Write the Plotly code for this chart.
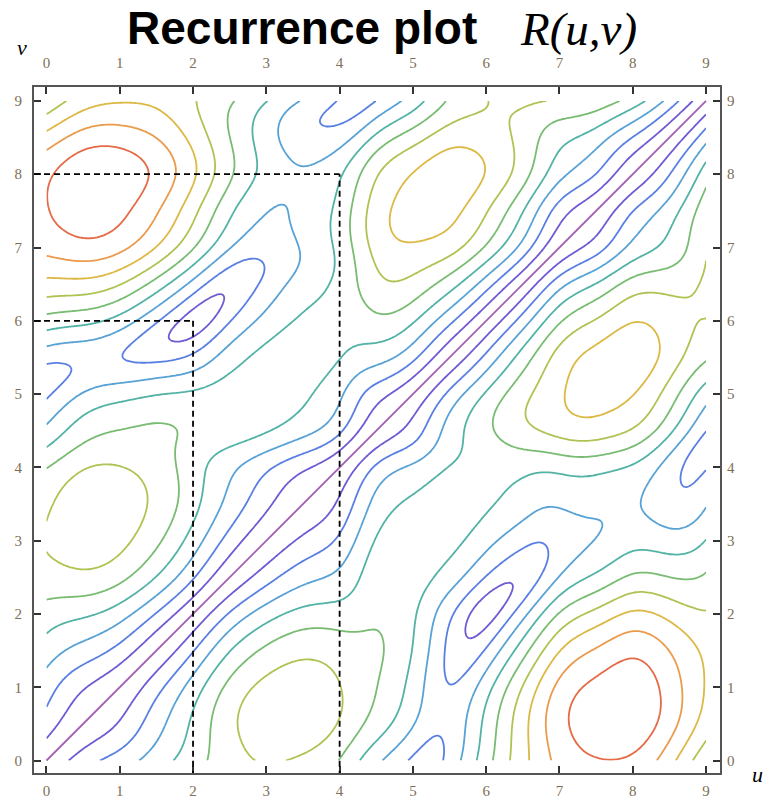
import numpy as np
import plotly.graph_objects as go

# ---- data: underlying state-space trajectory x(t), sampled every 0.5 time units ----
t_knots = [0.0, 0.5, 1.0, 1.5, 2.0, 2.5, 3.0, 3.5, 4.0, 4.5,
           5.0, 5.5, 6.0, 6.5, 7.0, 7.5, 8.0, 8.5, 9.0]
traj_x = [0.00, -1.20, -1.35, -0.54, 1.16, 3.25, 4.65, 5.16, 4.67, 3.25,
          1.80, 0.68, 1.37, 3.44, 6.05, 7.42, 8.21, 7.20, 5.20]
traj_y = [0.00, 0.96, 2.05, 3.48, 4.40, 4.60, 3.85, 2.75, 1.65, 0.03,
          0.30, 2.24, 4.39, 5.73, 5.69, 4.99, 3.19, 1.52, -0.14]
traj_z = [0.00, -0.03, -0.05, -0.11, -0.23, -0.31, -0.26, -0.19, -0.13, -0.07,
          -0.02, 0.01, 0.11, 0.22, 0.25, 0.23, 0.10, -0.16, -0.56]

tick_vals = [0, 1, 2, 3, 4, 5, 6, 7, 8, 9]
highlight_pairs = [(2, 6), (4, 8)]          # (u, v) pairs marked with dashed guides

# contour colours for R = 0, 1, 2, ... 9
level_colors = ["#a462b4", "#7059d2", "#5a7fe2", "#58a2d6", "#52b2a6",
                "#78bc72", "#adc452", "#dcb844", "#eb9a4c", "#e56a46"]


def natural_spline(xk, yk, xs):
    xk = np.asarray(xk, float)
    yk = np.asarray(yk, float)
    n = len(xk)
    h = np.diff(xk)
    A = np.zeros((n, n))
    b = np.zeros(n)
    A[0, 0] = 1.0
    A[-1, -1] = 1.0
    for i in range(1, n - 1):
        A[i, i - 1] = h[i - 1]
        A[i, i] = 2 * (h[i - 1] + h[i])
        A[i, i + 1] = h[i]
        b[i] = 6 * ((yk[i + 1] - yk[i]) / h[i] - (yk[i] - yk[i - 1]) / h[i - 1])
    M = np.linalg.solve(A, b)
    idx = np.clip(np.searchsorted(xk, xs) - 1, 0, n - 2)
    x0, x1 = xk[idx], xk[idx + 1]
    hh = x1 - x0
    a = (x1 - xs) / hh
    c = (xs - x0) / hh
    return (a * yk[idx] + c * yk[idx + 1]
            + ((a ** 3 - a) * M[idx] + (c ** 3 - c) * M[idx + 1]) * hh ** 2 / 6)


# recurrence (distance) matrix R(u, v) = |x(u) - x(v)|
tt = np.linspace(0, 9, 301)
P = np.stack([natural_spline(t_knots, traj_x, tt),
              natural_spline(t_knots, traj_y, tt),
              natural_spline(t_knots, traj_z, tt)], axis=1)
R = np.sqrt(((P[:, None, :] - P[None, :, :]) ** 2).sum(-1))

n_lev = len(level_colors)
fig = go.Figure()
fig.add_trace(go.Contour(
    x=tt, y=tt, z=R,
    contours=dict(start=1, end=n_lev - 1, size=1, coloring="lines"),
    colorscale=[[(k - 1) / (n_lev - 2), level_colors[k]] for k in range(1, n_lev)],
    zmin=1, zmax=n_lev - 1,
    showscale=False, line=dict(width=1.8, smoothing=1), hoverinfo="skip",
))
# the R = 0 contour: the main diagonal u = v
fig.add_trace(go.Scatter(x=tt, y=tt, mode="lines", hoverinfo="skip",
                         line=dict(color=level_colors[0], width=1.9)))
# phantom trace so the secondary (top/right) label axes are drawn
fig.add_trace(go.Scatter(x=[None], y=[None], xaxis="x2", yaxis="y2",
                         showlegend=False, hoverinfo="skip"))

rng = [-0.17, 9.19]
for (pu, pv) in highlight_pairs:
    fig.add_shape(type="line", xref="x", yref="y", x0=pu, x1=pu, y0=rng[0] - 0.05, y1=pv,
                  line=dict(color="black", width=1.8, dash="6px,4px"))
    fig.add_shape(type="line", xref="x", yref="y", x0=rng[0], x1=pu, y0=pv, y1=pv,
                  line=dict(color="black", width=1.8, dash="6px,4px"))

# the page body adds an 8 px offset, so the figure is 8 px smaller than the window
tickfont = dict(family="Liberation Serif", size=15, color="#7d6e55")
common = dict(range=rng, tickvals=tick_vals, showgrid=False, zeroline=False,
              fixedrange=True, automargin=False)
fig.update_layout(
    width=763, height=795,
    margin=dict(l=26, r=51, t=79, b=30, autoexpand=False),
    paper_bgcolor="white", plot_bgcolor="white",
    showlegend=False,
    xaxis=dict(**common, ticks="inside", ticklen=7, tickwidth=1.5, tickcolor="#333",
               showline=True, linewidth=2.2, linecolor="#555", mirror="ticks",
               tickfont=tickfont, ticklabelstandoff=3),
    yaxis=dict(**common, ticks="inside", ticklen=7, tickwidth=1.5, tickcolor="#333",
               showline=True, linewidth=2.2, linecolor="#555", mirror="ticks",
               tickfont=tickfont, ticklabelstandoff=7),
    xaxis2=dict(**common, overlaying="x", side="top", anchor="y", ticks="",
                showline=False, tickfont=tickfont, ticklabelstandoff=15),
    yaxis2=dict(**common, overlaying="y", side="right", anchor="x", ticks="",
                showline=False, tickfont=tickfont, ticklabelstandoff=6),
    annotations=[
        dict(text="<b>Recurrence plot</b>", xref="paper", yref="paper",
             x=(302 - 34) / 686, y=(773 - 28) / 686, xanchor="center", yanchor="middle",
             showarrow=False, font=dict(family="Liberation Sans", size=46, color="black")),
        dict(text="<i>R(u,v)</i>", xref="paper", yref="paper",
             x=(578 - 34) / 686, y=(773 - 29) / 686, xanchor="center", yanchor="middle",
             showarrow=False, font=dict(family="Liberation Serif", size=47, color="black")),
        dict(text="<i>v</i>", xref="paper", yref="paper",
             x=(22 - 34) / 686, y=(773 - 47) / 686, xanchor="center", yanchor="middle",
             showarrow=False, font=dict(family="Liberation Serif", size=22, color="black")),
        dict(text="<i>u</i>", xref="paper", yref="paper",
             x=(757 - 34) / 686, y=(773 - 774) / 686, xanchor="center", yanchor="middle",
             showarrow=False, font=dict(family="Liberation Serif", size=22, color="black")),
    ],
)

fig.write_html("out.html")
